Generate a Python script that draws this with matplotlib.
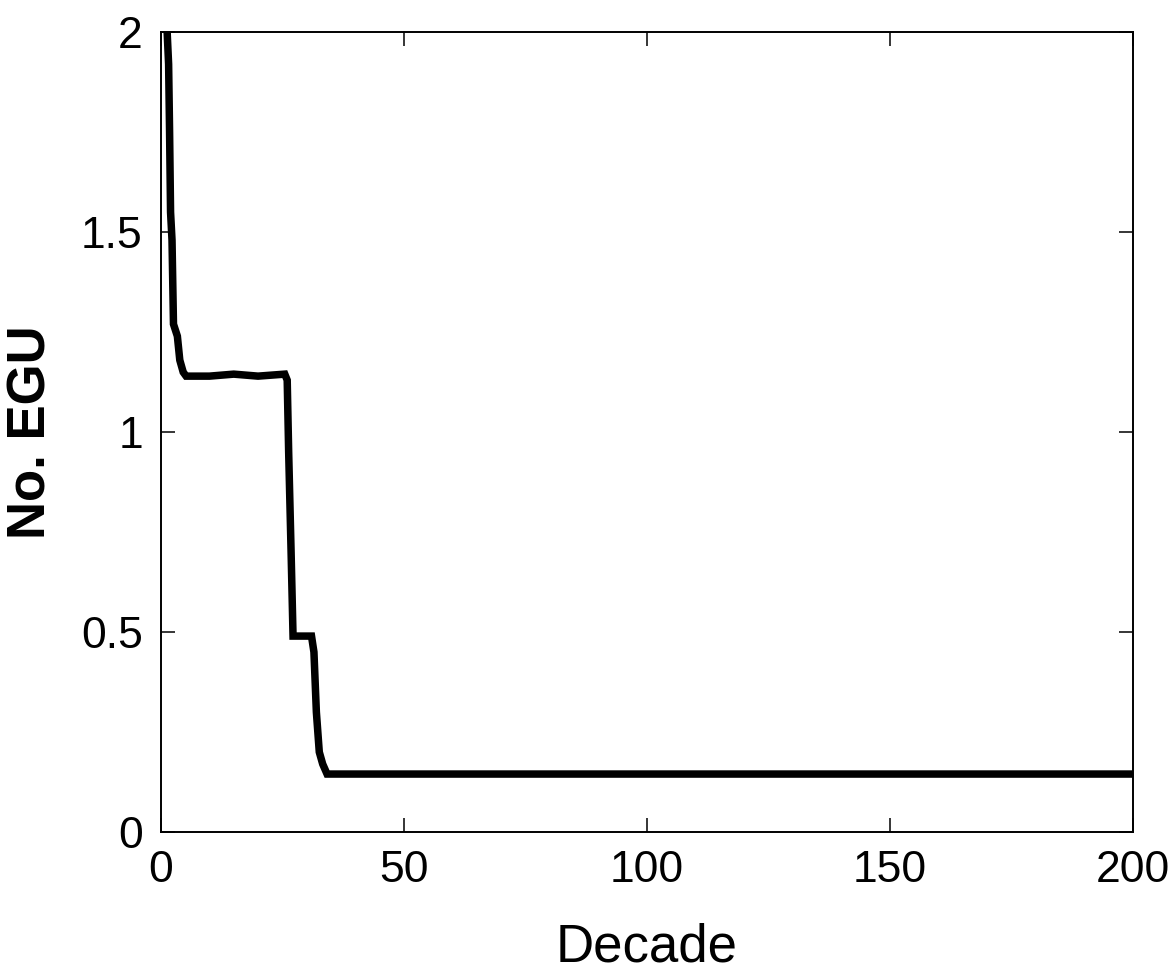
import matplotlib
matplotlib.use('Agg')
import matplotlib.pyplot as plt

# breakpoints of the curve
decade = [1.3, 1.6, 1.8, 2.0, 2.3, 2.6, 3.4, 3.9, 4.6, 5.2, 10, 15, 20, 25.5,
          26.0, 26.3, 26.8, 27.2, 31.0, 31.5, 32.0, 32.6, 33.3, 34.2, 50, 100, 150, 200]
egu = [2.0, 1.92, 1.75, 1.55, 1.48, 1.27, 1.24, 1.18, 1.15, 1.14, 1.14, 1.145, 1.14, 1.145,
       1.13, 0.95, 0.7, 0.49, 0.49, 0.45, 0.3, 0.2, 0.17, 0.145, 0.145, 0.145, 0.145, 0.145]

x_ticks = [0, 50, 100, 150, 200]
y_ticks = [0, 0.5, 1, 1.5, 2]
y_labels = ['0', '0.5', '1', '1.5', '2']

tick_font = ['Liberation Sans', 'DejaVu Sans']

fig = plt.figure(figsize=(11.74, 9.76), dpi=100)
ax = fig.add_axes([0.137, 0.1475, 0.828, 0.8195])

ax.plot(decade, egu, color='black', linewidth=5.4, solid_joinstyle='miter')

ax.set_xlim(0, 200)
ax.set_ylim(0, 2)
ax.set_xticks(x_ticks)
ax.set_yticks(y_ticks)
ax.set_xticklabels([str(t) for t in x_ticks])
ax.set_yticklabels(y_labels)

# inward ticks on all four sides, MATLAB style
ax.tick_params(direction='in', length=10, width=1.1, top=True, right=True,
               labelsize=32, pad=13)
for lbl in ax.get_xticklabels() + ax.get_yticklabels():
    lbl.set_family(tick_font)

for s in ax.spines.values():
    s.set_linewidth(1.4)

ax.set_xlabel('Decade', fontsize=38, family=tick_font)
ax.xaxis.set_label_coords(0.5, -0.113)
ax.set_ylabel('No. EGU', fontsize=38, family=tick_font, fontweight='bold')
ax.yaxis.set_label_coords(-0.107, 0.5)

fig.savefig('out.png', dpi=100)
